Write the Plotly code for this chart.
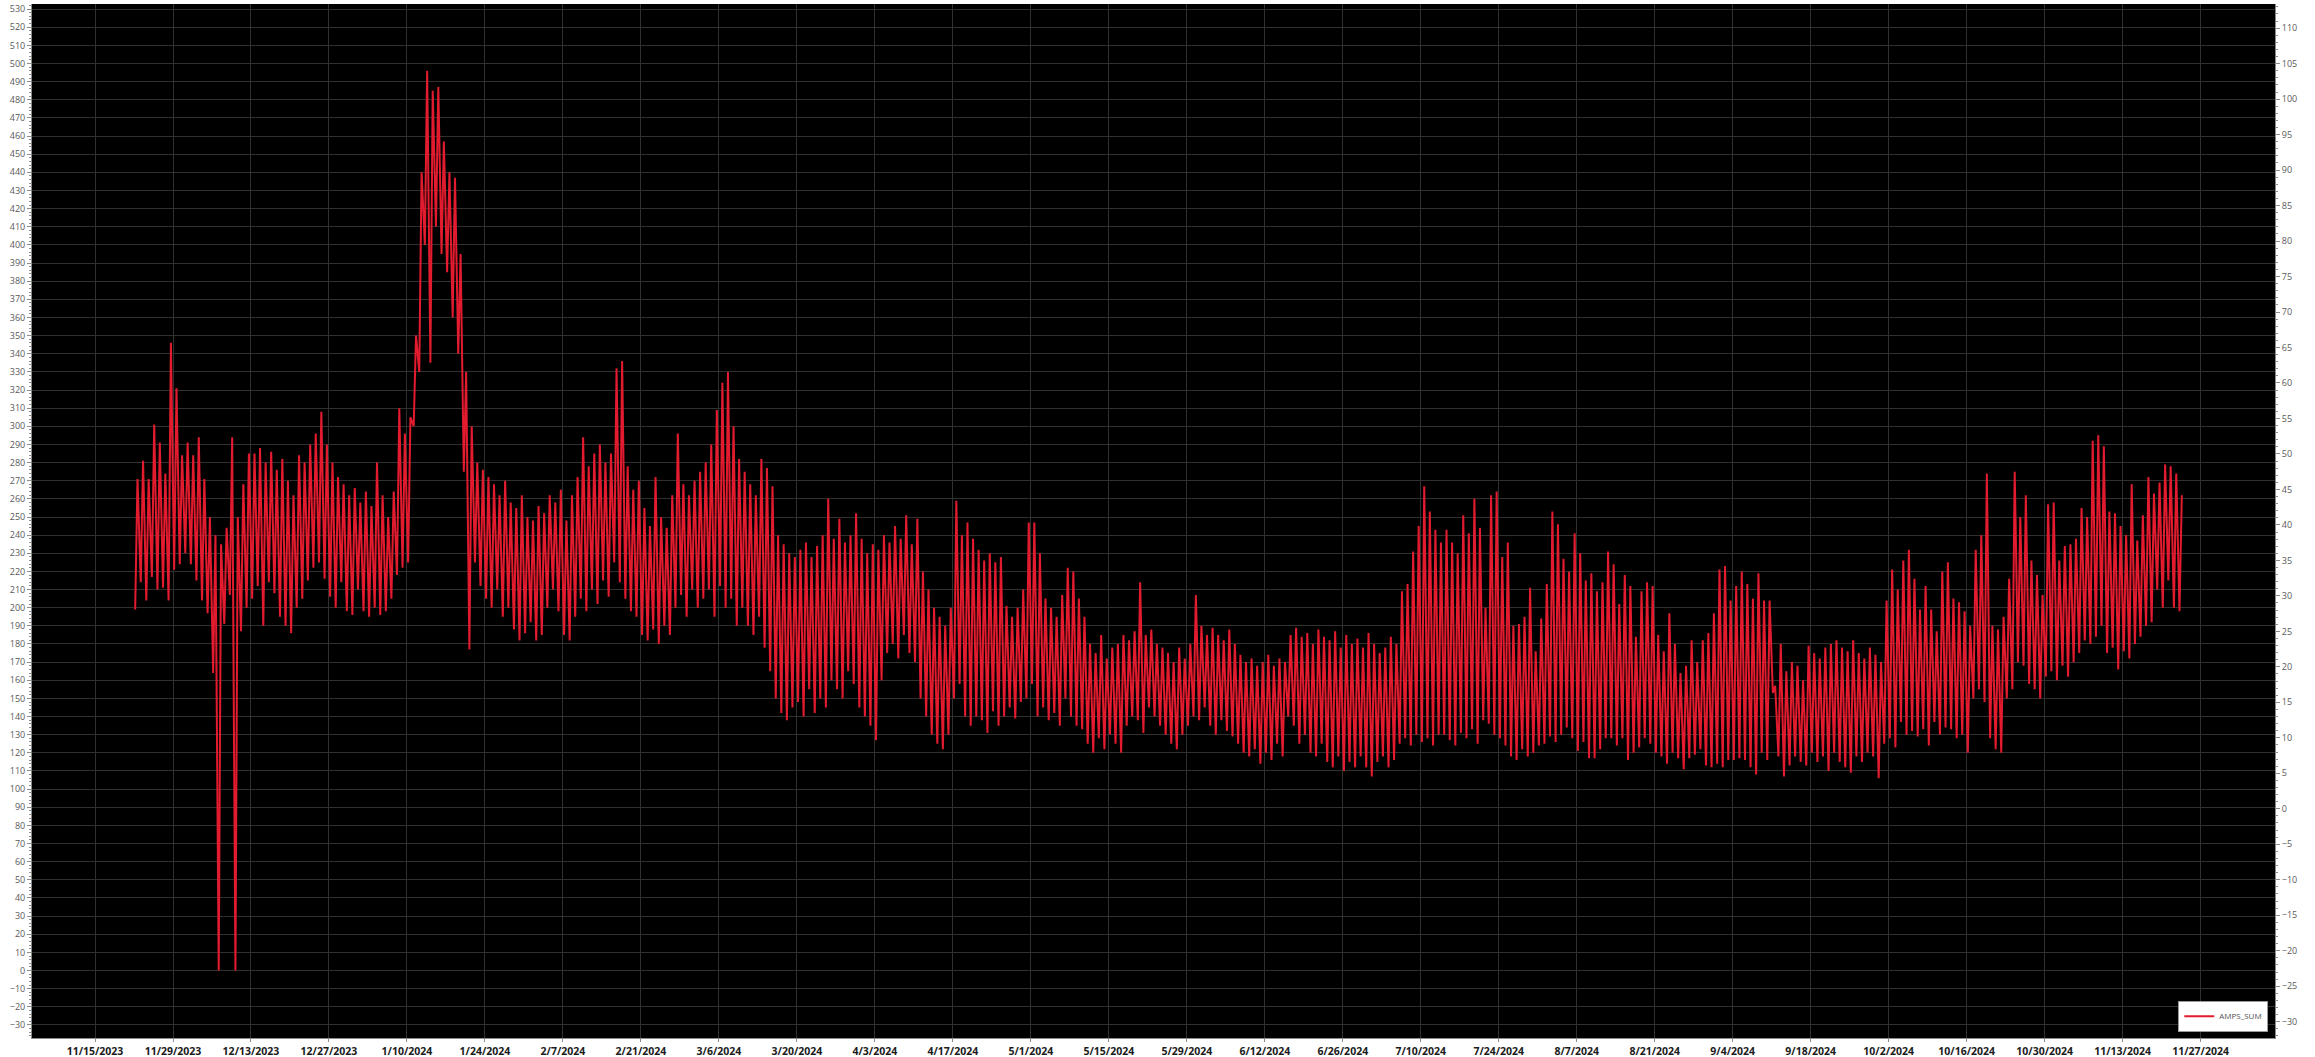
import pandas as pd
import plotly.graph_objects as go

# Daily low / high of the summed current (A), one pair per calendar day
FIRST_DAY = "2023-11-22"

hi_2023_11 = [271, 281, 271, 301, 291, 274, 346, 321, 284]
lo_2023_11 = [199, 214, 204, 217, 210, 211, 204, 221, 224]

hi_2023_12 = [291, 284, 294, 271, 250, 240, 235, 244, 294, 250, 268, 285, 285, 288, 280, 286,
              276, 282, 270, 262, 284, 280, 290, 296, 308, 290, 280, 272, 268, 262, 266]
lo_2023_12 = [230, 224, 215, 204, 197, 164, 0, 191, 207, 0, 187, 200, 205, 212, 190, 214,
              208, 195, 190, 186, 200, 205, 215, 222, 225, 216, 206, 200, 214, 198, 196]

hi_2024_01 = [258, 264, 256, 280, 262, 250, 264, 310, 296, 305, 350, 440, 496, 485, 487, 457,
              440, 437, 395, 330, 300, 280, 276, 272, 268, 262, 270, 258, 255, 262, 250]
lo_2024_01 = [210, 198, 195, 200, 196, 198, 205, 218, 222, 225, 300, 330, 400, 335, 410, 395,
              385, 360, 340, 275, 177, 225, 212, 205, 200, 210, 195, 200, 188, 182, 186]

hi_2024_02 = [248, 256, 252, 262, 258, 265, 248, 262, 272, 294, 278, 285, 290, 280, 285, 332,
              336, 278, 265, 270, 255, 245, 272, 250, 244, 262, 296, 268, 262]
lo_2024_02 = [192, 182, 185, 200, 210, 198, 185, 182, 195, 205, 198, 210, 202, 215, 206, 225,
              214, 205, 198, 195, 185, 182, 188, 180, 190, 185, 200, 207, 195]

hi_2024_03 = [270, 275, 280, 290, 309, 324, 330, 300, 282, 275, 268, 262, 282, 277, 267, 240,
              235, 230, 228, 232, 236, 228, 234, 240, 260, 238, 249, 236, 240, 252, 238]
lo_2024_03 = [210, 200, 205, 210, 195, 212, 200, 205, 190, 200, 190, 185, 195, 178, 165, 150,
              142, 138, 145, 148, 140, 155, 142, 150, 145, 160, 155, 150, 165, 158, 145]

hi_2024_04 = [230, 235, 232, 240, 236, 245, 238, 251, 235, 249, 220, 210, 200, 195, 190, 200,
              259, 240, 247, 238, 232, 226, 230, 225, 228, 201, 195, 200, 210, 247]
lo_2024_04 = [140, 135, 127, 160, 175, 180, 172, 185, 175, 170, 150, 140, 130, 125, 122, 130,
              150, 158, 140, 135, 140, 138, 131, 143, 135, 140, 145, 139, 148, 150]

hi_2024_05 = [247, 230, 205, 200, 195, 207, 222, 220, 205, 195, 180, 175, 185, 172, 178, 180,
              185, 182, 187, 214, 185, 188, 180, 178, 175, 170, 178, 172, 180, 207, 190]
lo_2024_05 = [158, 140, 145, 138, 142, 135, 150, 140, 135, 133, 125, 120, 128, 122, 130, 125,
              120, 135, 140, 138, 131, 145, 140, 135, 130, 125, 122, 130, 135, 140, 138]

hi_2024_06 = [185, 189, 185, 182, 188, 180, 174, 170, 172, 168, 170, 174, 168, 172, 170, 185,
              189, 184, 186, 180, 188, 184, 182, 187, 178, 185, 180, 183, 178, 186]
lo_2024_06 = [145, 135, 130, 138, 132, 129, 125, 120, 118, 122, 114, 120, 116, 125, 118, 140,
              135, 125, 130, 120, 118, 125, 115, 112, 118, 110, 115, 112, 118, 112]

hi_2024_07 = [180, 175, 178, 184, 180, 209, 213, 231, 245, 267, 253, 243, 236, 243, 236, 230,
              251, 241, 260, 244, 200, 262, 264, 228, 236, 190, 191, 195, 211, 176, 194]
lo_2024_07 = [107, 115, 118, 112, 116, 125, 128, 124, 130, 126, 128, 124, 130, 130, 127, 124,
              131, 128, 133, 125, 138, 136, 130, 128, 124, 118, 116, 122, 118, 120, 124]

hi_2024_08 = [213, 253, 246, 227, 220, 241, 230, 215, 219, 209, 214, 231, 224, 202, 218, 212,
              184, 209, 214, 212, 185, 176, 197, 180, 164, 168, 182, 170, 182, 186, 197]
lo_2024_08 = [125, 129, 126, 130, 134, 128, 121, 126, 117, 117, 122, 128, 128, 124, 128, 116,
              120, 123, 128, 125, 120, 118, 114, 120, 117, 111, 117, 119, 122, 113, 112]

hi_2024_09 = [221, 223, 204, 212, 220, 213, 205, 219, 204, 204, 157, 180, 165, 170, 168, 160,
              179, 175, 172, 178, 180, 182, 178, 176, 182, 175, 172, 178, 174, 170]
lo_2024_09 = [114, 112, 116, 116, 117, 116, 112, 108, 120, 116, 153, 118, 107, 113, 118, 115,
              113, 120, 115, 118, 110, 120, 115, 112, 109, 118, 115, 120, 118, 106]

hi_2024_10 = [204, 221, 210, 226, 232, 216, 199, 212, 199, 187, 220, 225, 205, 203, 198, 190,
              232, 240, 274, 190, 188, 195, 216, 275, 250, 262, 226, 218, 207, 257, 258]
lo_2024_10 = [125, 128, 123, 137, 130, 132, 129, 133, 124, 137, 130, 134, 133, 128, 130, 120,
              150, 155, 148, 128, 122, 120, 150, 155, 170, 168, 158, 155, 150, 162, 165]

hi_2024_11 = [226, 234, 235, 238, 255, 250, 292, 295, 289, 253, 252, 245, 240, 268, 237, 251,
              272, 263, 269, 279, 278, 274, 262]
lo_2024_11 = [160, 168, 162, 170, 175, 182, 180, 184, 190, 175, 178, 166, 176, 172, 180, 184,
              190, 192, 210, 200, 215, 200, 198]

SERIES_NAME = "AMPS_SUM"

daily_high = (hi_2023_11 + hi_2023_12 + hi_2024_01 + hi_2024_02 + hi_2024_03 + hi_2024_04 +
              hi_2024_05 + hi_2024_06 + hi_2024_07 + hi_2024_08 + hi_2024_09 + hi_2024_10 +
              hi_2024_11)
daily_low = (lo_2023_11 + lo_2023_12 + lo_2024_01 + lo_2024_02 + lo_2024_03 + lo_2024_04 +
             lo_2024_05 + lo_2024_06 + lo_2024_07 + lo_2024_08 + lo_2024_09 + lo_2024_10 +
             lo_2024_11)

days = pd.date_range(FIRST_DAY, periods=len(daily_high), freq="D")
times, amps = [], []
for day, lo, hi in zip(days, daily_low, daily_high):
    times += [day + pd.Timedelta(hours=5), day + pd.Timedelta(hours=15)]
    amps += [lo, hi]

# fortnightly date ticks
tick_dates = pd.date_range("2023-11-15", "2024-11-27", freq="14D")
tick_text = [f"{d.month}/{d.day}/{d.year}" for d in tick_dates]

GRID = "#303030"
AXIS = "#8c8c8c"
LABEL = "#5a5a5a"

fig = go.Figure()
fig.add_trace(go.Scatter(
    x=times, y=amps, mode="lines", name=SERIES_NAME,
    line=dict(color="#E31B2F", width=2),
))
# companion scale on the right side
fig.add_trace(go.Scatter(
    x=[times[0]], y=[None], yaxis="y2", mode="lines",
    showlegend=False, hoverinfo="skip",
))

fig.update_layout(
    width=2315, height=1057,
    margin=dict(l=32, r=40, t=4, b=19, autoexpand=False),
    paper_bgcolor="white",
    plot_bgcolor="black",
    font=dict(family="Open Sans, Noto Sans, sans-serif"),
    showlegend=True,
    legend=dict(
        x=0.997, y=0.006, xanchor="right", yanchor="bottom",
        bgcolor="white", bordercolor="#9a9a9a", borderwidth=1,
        font=dict(size=8, color="#555555"), itemwidth=30,
        tracegroupgap=0,
    ),
    xaxis=dict(
        type="date",
        range=["2023-11-03 16:30", "2024-12-10 08:30"],
        tickvals=tick_dates, ticktext=tick_text,
        tickfont=dict(size=10.5, color="#1c1c1c", weight="bold"),
        showgrid=True, gridcolor=GRID, gridwidth=1,
        ticks="outside", ticklen=3, tickcolor=AXIS,
        ticklabelstandoff=0,
        showline=True, linecolor=AXIS, linewidth=1,
        zeroline=False,
    ),
    yaxis=dict(
        range=[-37.2, 532.8],
        tick0=0, dtick=10,
        tickfont=dict(size=9, color=LABEL),
        showgrid=True, gridcolor=GRID, gridwidth=1,
        ticks="outside", ticklen=4, tickcolor=AXIS,
        minor=dict(dtick=2, ticks="outside", ticklen=2, tickcolor=AXIS, showgrid=False),
        showline=True, linecolor=AXIS, linewidth=1,
        zeroline=False,
    ),
    yaxis2=dict(
        overlaying="y", side="right",
        range=[-32.3, 113.4],
        tick0=0, dtick=5,
        tickfont=dict(size=9, color=LABEL),
        showgrid=False,
        ticks="outside", ticklen=4, tickcolor=AXIS,
        minor=dict(dtick=1, ticks="outside", ticklen=2, tickcolor=AXIS, showgrid=False),
        showline=True, linecolor=AXIS, linewidth=1,
        zeroline=False,
    ),
)

fig.write_html("out.html")
